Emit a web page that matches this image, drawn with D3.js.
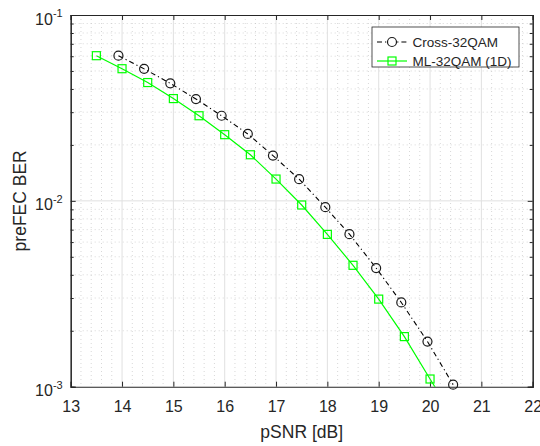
<!DOCTYPE html>
<html>
<head>
<meta charset="utf-8">
<script src="https://cdn.jsdelivr.net/npm/d3@7"></script>
<style>
  body { margin: 0; background: #fff; }
  text { font-family: "Liberation Sans", Arial, Helvetica, sans-serif; fill: #262626; }
</style>
</head>
<body>
<svg id="chart" width="540" height="446"></svg>
<script>
// values
var snrCross = [13.93, 14.43, 14.94, 15.44, 15.94, 16.45, 16.94, 17.45, 17.96, 18.43, 18.95, 19.44, 19.95, 20.45];
var berCross = [0.0604, 0.0513, 0.0429, 0.0353, 0.0287, 0.0229, 0.01752, 0.01308, 0.00925, 0.00662, 0.00435, 0.00284, 0.00175, 0.001026];
var snrML = [13.5, 14, 14.5, 15, 15.5, 16, 16.5, 17, 17.5, 18, 18.5, 19, 19.5, 20, 20.5];
var berML = [0.0604, 0.0514, 0.0433, 0.0355, 0.0287, 0.0227, 0.0177, 0.0131, 0.0095, 0.0066, 0.0045, 0.00296, 0.00186, 0.0011, 0.00066];
var xTicks = [13, 14, 15, 16, 17, 18, 19, 20, 21, 22];
var yTicks = [1e-3, 1e-2, 1e-1];
var yTickExp = ['-3', '-2', '-1'];
var seriesNames = ['Cross-32QAM', 'ML-32QAM (1D)'];

var svg = d3.select('#chart');
var pL = 70.7, pR = 532.7, pT = 15, pB = 386.7;

var x = d3.scaleLinear().domain([13, 22]).range([pL, pR]);
var y = d3.scaleLog().domain([1e-3, 1e-1]).range([pB, pT]);

// minor positions
var xMinor = d3.range(13, 22.001, 0.2).filter(function(v) { return Math.abs(v - Math.round(v)) > 1e-6; });
var yMinor = [];
[1e-3, 1e-2].forEach(function(d) { for (var k = 2; k <= 9; k++) yMinor.push(d * k); });

// grid
var grid = svg.append('g');
grid.selectAll('.xmg').data(xMinor).enter().append('line')
  .attr('x1', function(d) { return x(d); }).attr('x2', function(d) { return x(d); })
  .attr('y1', pT).attr('y2', pB)
  .attr('stroke', '#bdbdbd').attr('stroke-width', 0.6).attr('stroke-dasharray', '1,3');
grid.selectAll('.ymg').data(yMinor).enter().append('line')
  .attr('y1', function(d) { return y(d); }).attr('y2', function(d) { return y(d); })
  .attr('x1', pL).attr('x2', pR)
  .attr('stroke', '#bdbdbd').attr('stroke-width', 0.6).attr('stroke-dasharray', '1,3');
grid.selectAll('.xg').data(xTicks.slice(1, -1)).enter().append('line')
  .attr('x1', function(d) { return x(d); }).attr('x2', function(d) { return x(d); })
  .attr('y1', pT).attr('y2', pB)
  .attr('stroke', '#e0e0e0').attr('stroke-width', 1);
grid.selectAll('.yg').data([1e-2]).enter().append('line')
  .attr('y1', function(d) { return y(d); }).attr('y2', function(d) { return y(d); })
  .attr('x1', pL).attr('x2', pR)
  .attr('stroke', '#e0e0e0').attr('stroke-width', 1);

// axes with inward ticks
var axB = svg.append('g').attr('transform', 'translate(0,' + pB + ')')
  .call(d3.axisBottom(x).tickValues(xTicks).tickSize(-5).tickPadding(14).tickFormat(d3.format('d')));
svg.append('g').attr('transform', 'translate(0,' + pT + ')')
  .call(d3.axisTop(x).tickValues(xTicks).tickSize(-5).tickFormat(''));
svg.append('g').attr('transform', 'translate(' + pL + ',0)')
  .call(d3.axisLeft(y).tickValues(yTicks).tickSize(-5).tickFormat(''));
svg.append('g').attr('transform', 'translate(' + pR + ',0)')
  .call(d3.axisRight(y).tickValues(yTicks).tickSize(-5).tickFormat(''));
svg.append('g').attr('transform', 'translate(' + pL + ',0)')
  .call(d3.axisLeft(y).tickValues(yMinor).tickSize(-3).tickFormat(''));
svg.append('g').attr('transform', 'translate(' + pR + ',0)')
  .call(d3.axisRight(y).tickValues(yMinor).tickSize(-3).tickFormat(''));
svg.selectAll('.domain').attr('stroke', '#262626').attr('stroke-width', 1.1);
svg.selectAll('.tick line').attr('stroke', '#262626');
axB.selectAll('text').style('font-size', '16px').attr('fill', '#262626')
  .attr('font-family', '"Liberation Sans", Arial, sans-serif');

// y tick labels 10^n
var yl = svg.append('g').selectAll('text').data(yTicks).enter().append('text')
  .attr('x', pL - 8).attr('y', function(d) { return y(d) + 9.5; })
  .attr('text-anchor', 'end').style('font-size', '16px');
yl.append('tspan').text('10');
yl.append('tspan').attr('dy', -7.5).style('font-size', '11px').text(function(d, i) { return yTickExp[i]; });

// axis titles
svg.append('text').attr('x', (pL + pR) / 2).attr('y', 438)
  .attr('text-anchor', 'middle').style('font-size', '17.5px').text('pSNR [dB]');
svg.append('text').attr('transform', 'translate(26,' + ((pT + pB) / 2) + ') rotate(-90)')
  .attr('text-anchor', 'middle').style('font-size', '17.5px').text('preFEC BER');

// clip
svg.append('clipPath').attr('id', 'clip').append('rect')
  .attr('x', pL).attr('y', pT).attr('width', pR - pL).attr('height', pB - pT);

var line = d3.line().x(function(d) { return x(d[0]); }).y(function(d) { return y(d[1]); });
var crossPts = d3.zip(snrCross, berCross);
var mlPts = d3.zip(snrML, berML);
var inRange = function(d) { return d[1] >= 1e-3 * 0.999 && d[1] <= 1e-1; };

var plot = svg.append('g').attr('clip-path', 'url(#clip)');
plot.append('path').datum(mlPts).attr('d', line)
  .attr('fill', 'none').attr('stroke', '#00ff00').attr('stroke-width', 1.2);
plot.append('path').datum(crossPts).attr('d', line)
  .attr('fill', 'none').attr('stroke', '#000').attr('stroke-width', 1.1).attr('stroke-dasharray', '5,3,1.2,3');

svg.append('g').selectAll('rect').data(mlPts.filter(inRange)).enter().append('rect')
  .attr('x', function(d) { return x(d[0]) - 4; }).attr('y', function(d) { return y(d[1]) - 4; })
  .attr('width', 8).attr('height', 8)
  .attr('fill', 'none').attr('stroke', '#00ff00').attr('stroke-width', 1.2);
svg.append('g').selectAll('circle').data(crossPts.filter(inRange)).enter().append('circle')
  .attr('cx', function(d) { return x(d[0]); }).attr('cy', function(d) { return y(d[1]); })
  .attr('r', 4.5)
  .attr('fill', 'none').attr('stroke', '#1a1a1a').attr('stroke-width', 1.2);

// legend
var lg = svg.append('g');
lg.append('rect').attr('x', 372).attr('y', 27).attr('width', 147).attr('height', 40)
  .attr('fill', '#fff').attr('stroke', '#262626').attr('stroke-width', 0.8);
var rows = lg.selectAll('.row').data(seriesNames).enter().append('g')
  .attr('transform', function(d, i) { return 'translate(0,' + (42 + i * 19) + ')'; });
rows.append('line').attr('x1', 377).attr('x2', 407).attr('y1', 0).attr('y2', 0)
  .attr('stroke', function(d, i) { return i === 0 ? '#000' : '#00ff00'; })
  .attr('stroke-width', 1.2)
  .attr('stroke-dasharray', function(d, i) { return i === 0 ? '5,3,1.2,3' : null; });
rows.filter(function(d, i) { return i === 0; }).append('circle')
  .attr('cx', 392).attr('cy', 0).attr('r', 4.5).attr('fill', '#fff').attr('stroke', '#1a1a1a').attr('stroke-width', 1.2);
rows.filter(function(d, i) { return i === 1; }).append('rect')
  .attr('x', 388).attr('y', -4).attr('width', 8).attr('height', 8).attr('fill', 'none').attr('stroke', '#00ff00').attr('stroke-width', 1.2);
rows.append('text').attr('x', 412.5).attr('y', 5).style('font-size', '13.5px').text(function(d) { return d; });
</script>
</body>
</html>
